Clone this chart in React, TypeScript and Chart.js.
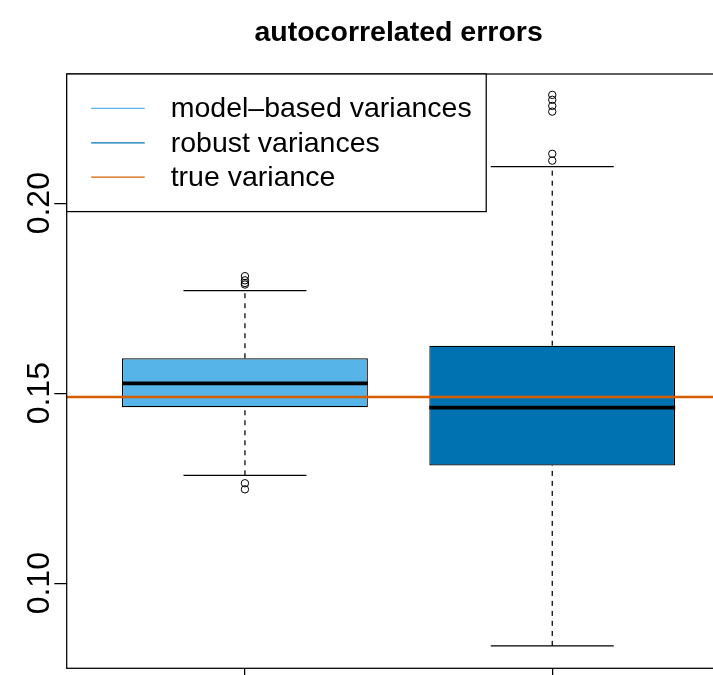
import React, { useEffect, useRef } from "react";
import { Chart, registerables } from "chart.js";

Chart.register(...registerables);

// ---------- data ----------
const groupPositions = [1, 2];
const boxColors = ["#56B4E9", "#0072B2"];
const lowerWhisker = [0.1284, 0.0835];
const lowerHinge = [0.1463, 0.131];
const medians = [0.1526, 0.1462];
const upperHinge = [0.1592, 0.1625];
const upperWhisker = [0.177, 0.2096];
const outliersModel = [0.1808, 0.1797, 0.179, 0.1786, 0.1263, 0.1247];
const outliersRobust = [0.2285, 0.2272, 0.2256, 0.2241, 0.213, 0.2112];
const trueVariance = 0.149;
const yTickValues = [0.1, 0.15, 0.2];
const yTickLabels = ["0.10", "0.15", "0.20"];
const legendLabels = ["model–based variances", "robust variances", "true variance"];
const legendColors = ["#56B4E9", "#0072B2", "#D55E00"];
const titleText = "autocorrelated errors";

// ---------- layout / style ----------
const X_MIN = 0.42;
const X_MAX = 2.58;
const Y_MIN = 0.0776;
const Y_MAX = 0.234;
const BOX_HALF = 0.4;
const CAP_HALF = 0.2;
const FONT = '"Liberation Sans", Arial, Helvetica, sans-serif';
const FONT_SIZE = 28.5;
const TICK_FONT_SIZE = 32;
const LW = 1.25;

const outlierSets = [outliersModel, outliersRobust];

const rPlotPlugin = {
  id: "rPlot",
  afterDatasetsDraw(chart: any) {
    const { ctx, chartArea } = chart;
    ctx.save();
    ctx.strokeStyle = "#000";
    ctx.lineWidth = LW;
    ctx.strokeRect(chartArea.left, chartArea.top, chartArea.right - chartArea.left, chartArea.bottom - chartArea.top);
    ctx.restore();
  },
  afterDraw(chart: any) {
    const { ctx, chartArea, scales } = chart;
    ctx.save();
    // title
    ctx.fillStyle = "#000";
    ctx.font = `bold ${FONT_SIZE}px ${FONT}`;
    ctx.textAlign = "center";
    ctx.textBaseline = "alphabetic";
    ctx.fillText(titleText, (chartArea.left + chartArea.right) / 2, 41);

    // y tick labels (rotated)
    ctx.font = `${TICK_FONT_SIZE}px ${FONT}`;
    const ys = scales.y;
    yTickValues.forEach((v, i) => {
      const py = ys.getPixelForValue(v);
      ctx.save();
      ctx.translate(48.5, py);
      ctx.rotate(-Math.PI / 2);
      ctx.textAlign = "center";
      ctx.textBaseline = "alphabetic";
      ctx.fillText(yTickLabels[i], 0, 0);
      ctx.restore();
    });

    // legend
    ctx.font = `${FONT_SIZE}px ${FONT}`;
    const x0 = chartArea.left;
    const y0 = chartArea.top;
    const rowH = 34.4;
    const textX = x0 + 104;
    let maxW = 0;
    legendLabels.forEach((t) => {
      maxW = Math.max(maxW, ctx.measureText(t).width);
    });
    const w = 104 + maxW + 14.5;
    const h = rowH * (legendLabels.length + 1);
    ctx.fillStyle = "#fff";
    ctx.fillRect(x0, y0, w, h);
    ctx.strokeStyle = "#000";
    ctx.lineWidth = LW;
    ctx.strokeRect(x0, y0, w, h);
    legendLabels.forEach((t, i) => {
      const yy = y0 + rowH * (i + 1);
      ctx.strokeStyle = legendColors[i];
      ctx.lineWidth = LW;
      ctx.beginPath();
      ctx.moveTo(x0 + 24.5, yy);
      ctx.lineTo(x0 + 78, yy);
      ctx.stroke();
      ctx.fillStyle = "#000";
      ctx.textAlign = "left";
      ctx.textBaseline = "middle";
      ctx.fillText(t, textX, yy + 1);
    });
    ctx.restore();
  },
};

export default function App() {
  const canvasRef = useRef<HTMLCanvasElement | null>(null);

  useEffect(() => {
    if (!canvasRef.current) return;
    const datasets: any[] = [];

    // true variance line (top)
    datasets.push({
      type: "line",
      data: [
        { x: X_MIN, y: trueVariance },
        { x: X_MAX, y: trueVariance },
      ],
      borderColor: "#D55E00",
      borderWidth: 2.6,
      pointRadius: 0,
      order: 0,
    });

    groupPositions.forEach((g, i) => {
      // median
      datasets.push({
        type: "line",
        data: [
          { x: g - BOX_HALF, y: medians[i] },
          { x: g + BOX_HALF, y: medians[i] },
        ],
        borderColor: "#000",
        borderWidth: 3.7,
        pointRadius: 0,
        borderCapStyle: "butt",
        order: 1,
      });
      // outliers
      datasets.push({
        type: "line",
        data: outlierSets[i].map((v) => ({ x: g, y: v })),
        showLine: false,
        pointRadius: 3.7,
        pointBorderWidth: 1,
        pointBorderColor: "#000",
        pointBackgroundColor: "rgba(0,0,0,0)",
        order: 2,
      });
      // caps
      [lowerWhisker[i], upperWhisker[i]].forEach((w) => {
        datasets.push({
          type: "line",
          data: [
            { x: g - CAP_HALF, y: w },
            { x: g + CAP_HALF, y: w },
          ],
          borderColor: "#000",
          borderWidth: LW,
          pointRadius: 0,
          order: 3,
        });
      });
      // whiskers
      [
        [lowerWhisker[i], lowerHinge[i]],
        [upperHinge[i], upperWhisker[i]],
      ].forEach(([a, b]) => {
        datasets.push({
          type: "line",
          data: [
            { x: g, y: a },
            { x: g, y: b },
          ],
          borderColor: "#000",
          borderWidth: LW,
          borderDash: [5, 5],
          pointRadius: 0,
          order: 4,
        });
      });
    });

    // boxes
    datasets.push({
      type: "bar",
      data: groupPositions.map((g, i) => ({ x: g, y: [lowerHinge[i], upperHinge[i]] })),
      backgroundColor: boxColors,
      borderColor: "#000",
      borderWidth: LW,
      borderSkipped: false,
      categoryPercentage: 1,
      barPercentage: 0.8,
      order: 5,
    });

    const chart = new Chart(canvasRef.current, {
      type: "bar",
      data: { datasets },
      options: {
        animation: false,
        responsive: false,
        events: [],
        layout: { padding: { left: 0, right: 9.5, top: 74, bottom: 0 } },
        plugins: {
          legend: { display: false },
          title: { display: false },
          tooltip: { enabled: false },
        },
        scales: {
          x: {
            type: "linear",
            min: X_MIN,
            max: X_MAX,
            offset: false,
            grid: {
              display: true,
              offset: false,
              drawOnChartArea: false,
              drawTicks: true,
              tickLength: 12,
              color: "#000",
              lineWidth: LW,
            },
            border: { display: false },
            ticks: { display: false },
            afterBuildTicks: (s: any) => {
              s.ticks = groupPositions.map((v) => ({ value: v }));
            },
            afterFit: (s: any) => {
              s.height = 6.7;
            },
          },
          y: {
            type: "linear",
            min: Y_MIN,
            max: Y_MAX,
            grid: {
              display: true,
              offset: false,
              drawOnChartArea: false,
              drawTicks: true,
              tickLength: 12.4,
              color: "#000",
              lineWidth: LW,
            },
            border: { display: false },
            ticks: { display: false },
            afterBuildTicks: (s: any) => {
              s.ticks = yTickValues.map((v) => ({ value: v }));
            },
            afterFit: (s: any) => {
              s.width = 66.7;
            },
          },
        },
      } as any,
      plugins: [rPlotPlugin],
    });
    return () => chart.destroy();
  }, []);

  return (
    <div
      style={{
        position: "absolute",
        left: 0,
        top: 0,
        width: 713,
        height: 675,
        overflow: "hidden",
        background: "#fff",
      }}
    >
      <canvas ref={canvasRef} width={740} height={675} style={{ width: 740, height: 675, display: "block" }} />
    </div>
  );
}
